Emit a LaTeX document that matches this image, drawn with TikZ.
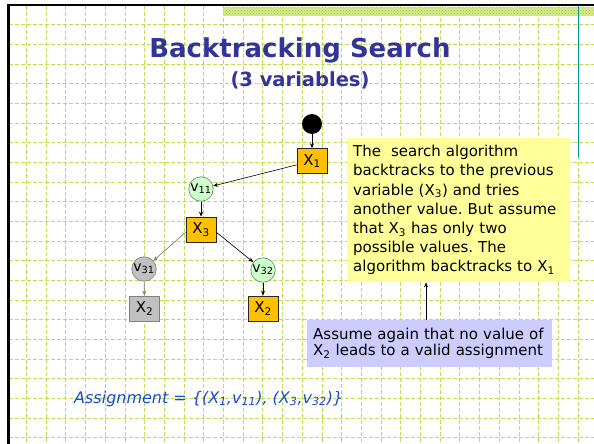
\documentclass[tikz,border=0pt]{standalone}
\usepackage{fontspec}
\setmainfont{DejaVu Sans}
\usetikzlibrary{arrows.meta,patterns}
\definecolor{gridc}{HTML}{C2DC55}
\definecolor{bandc}{HTML}{D6EA8C}
\definecolor{bandd}{HTML}{A6CA2A}
\definecolor{tealc}{HTML}{009999}
\definecolor{titlec}{HTML}{333399}
\definecolor{varc}{HTML}{FFC000}
\definecolor{valc}{HTML}{CCFFCC}
\definecolor{valb}{HTML}{5A8A5A}
\definecolor{greyf}{HTML}{C0C0C0}
\definecolor{greyb}{HTML}{808080}
\definecolor{notec}{HTML}{FFFF99}
\definecolor{lavc}{HTML}{CCCCFF}
\definecolor{asgc}{HTML}{1A4BD6}
\frenchspacing
\begin{document}
\begin{tikzpicture}[x=1pt,y=-1pt,
  gridline/.style={draw=gridc, line width=1pt, dash pattern=on 4pt off 2pt},
  xbox/.style={rectangle, draw=black!85, fill=varc, line width=0.6pt, minimum width=30pt, minimum height=25pt, inner sep=0pt, font=\fontsize{15}{17}\selectfont},
  gbox/.style={xbox, draw=greyb, fill=greyf},
  vcirc/.style={circle, draw=valb, fill=valc, line width=0.6pt, minimum size=24.5pt, inner sep=0pt, font=\fontsize{14}{15}\selectfont},
  gcirc/.style={vcirc, draw=greyb, fill=greyf},
  arr/.style={-{Stealth[length=5pt,width=4pt]}, line width=0.6pt, draw=black},
  garr/.style={arr, draw=greyb, fill=greyb},
  notebox/.style={rectangle, fill=notec, align=left, inner xsep=6pt, inner ysep=0pt, font=\fontsize{15}{19.2}\selectfont},
  lavbox/.style={rectangle, fill=lavc, align=left, inner xsep=6pt, inner ysep=0pt, font=\fontsize{15}{16}\selectfont}
]
\useasboundingbox (0,0) rectangle (594,444);
\fill[white] (0,0) rectangle (594,444);
% grid
\foreach \i in {0,...,28} { \draw[gridline] ({26.5+19.7*\i},6) -- ({26.5+19.7*\i},444); }
\foreach \j in {0,...,21} { \draw[gridline] (9,{25+19.65*\j}) -- (594,{25+19.65*\j}); }
% top band
\fill[bandc] (223,7) rectangle (594,16);
\fill[pattern=crosshatch dots, pattern color=bandd] (223,7) rectangle (594,16);
% borders
\draw[black, line width=2pt] (7,5) -- (594,5);
\draw[black, line width=3pt] (8.5,4) -- (8.5,444);
\draw[tealc, line width=1pt] (578,6) -- (578,157);
% title
\node[anchor=base, text=titlec, font=\bfseries\fontsize{26}{28}\selectfont] (title) at (300,58) {Backtracking Search};
\node[anchor=base, text=titlec, font=\bfseries\fontsize{19.5}{22}\selectfont] (subtitle) at (300,86) {(3 variables)};
% tree
\node[circle, fill=black, minimum size=20pt, inner sep=0pt] (root) at (312,124) {};
\node[xbox] (X1) at (312,161) {X\textsubscript{1}};
\node[vcirc] (v11) at (201,189) {v\textsubscript{11}};
\node[xbox] (X3) at (201,229.5) {X\textsubscript{3}};
\node[vcirc] (v32) at (263,270) {v\textsubscript{32}};
\node[xbox] (X2a) at (263,308.5) {X\textsubscript{2}};
\node[gcirc] (v31) at (144,269) {v\textsubscript{31}};
\node[gbox] (X2b) at (144.5,308.5) {X\textsubscript{2}};
\draw[arr] (root) -- (X1);
\draw[arr] (X1) -- (v11);
\draw[arr] (v11) -- (X3);
\draw[arr] (X3.-10) -- (v32);
\draw[arr] (v32) -- (X2a);
\draw[garr] (X3.190) -- (v31);
\draw[garr] (v31) -- (X2b);
% notes
\node[notebox, anchor=north west, text width=211pt, minimum height=144pt] (note) at (347,138)
 {The\ \ search algorithm\\backtracks to the previous\\variable (X\textsubscript{3}) and tries\\another value. But assume\\that X\textsubscript{3} has only two\\possible values. The\\algorithm backtracks to X\textsubscript{1}};
\node[lavbox, anchor=north west, text width=233pt, minimum height=47pt] (assume) at (307,320)
 {Assume again that no value of\\X\textsubscript{2} leads to a valid assignment};
\coordinate (ax) at (426,0);
\draw[arr] (assume.north -| ax) -- (note.south -| ax);
% assignment
\node[anchor=base west, inner sep=0pt, text=asgc, font=\itshape\fontsize{16}{18}\selectfont] (asg) at (74,403)
 {Assignment = \{(X\textsubscript{1},v\textsubscript{11}), (X\textsubscript{3},v\textsubscript{32})\}};
\end{tikzpicture}
\end{document}
